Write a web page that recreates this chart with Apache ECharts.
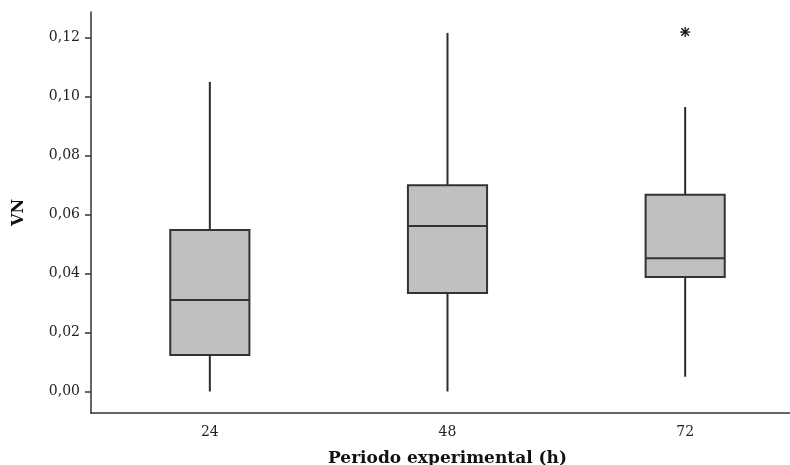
<!DOCTYPE html>
<html>
<head>
<meta charset="utf-8">
<script src="https://cdn.jsdelivr.net/npm/echarts@6/dist/echarts.min.js"></script>
<style>
  html, body { margin: 0; padding: 0; background: #fff; }
  #chart { width: 790px; height: 465px; }
</style>
</head>
<body>
<div id="chart"></div>
<script>
// Experimental period groups (hours)
const categories = ['24', '48', '72'];
// Five-number summaries per group
const whiskerLow  = [0.0000, 0.0000, 0.0050];
const q1          = [0.0124, 0.0334, 0.0388];
const median      = [0.0310, 0.0561, 0.0452];
const q3          = [0.0548, 0.0699, 0.0667];
const whiskerHigh = [0.1050, 0.1216, 0.0965];
// Outliers: [group index, value]
const outliers = [[2, 0.1219]];
// Y-axis tick values
const yTicks = [0, 0.02, 0.04, 0.06, 0.08, 0.10, 0.12];

const boxData = categories.map((c, i) => [i, whiskerLow[i], q1[i], median[i], q3[i], whiskerHigh[i]]);

const lineColor = '#2b2b2b';
const serif = '"DejaVu Serif", "Liberation Serif", serif';

function renderBox(params, api) {
  const i = api.value(0);
  const band = api.size([1, 0])[0];
  const half = band * 0.333 / 2;
  const pLow = api.coord([i, api.value(1)]);
  const pQ1 = api.coord([i, api.value(2)]);
  const pMed = api.coord([i, api.value(3)]);
  const pQ3 = api.coord([i, api.value(4)]);
  const pHigh = api.coord([i, api.value(5)]);
  const x = pQ1[0];
  const lineStyle = { stroke: lineColor, lineWidth: 2 };
  return {
    type: 'group',
    children: [
      { type: 'line', shape: { x1: x, y1: pHigh[1], x2: x, y2: pQ3[1] }, style: lineStyle },
      { type: 'line', shape: { x1: x, y1: pQ1[1], x2: x, y2: pLow[1] }, style: lineStyle },
      { type: 'rect', shape: { x: x - half, y: pQ3[1], width: half * 2, height: pQ1[1] - pQ3[1] },
        style: { fill: '#c0c0c0', stroke: '#333', lineWidth: 2 } },
      { type: 'line', shape: { x1: x - half, y1: pMed[1], x2: x + half, y2: pMed[1] }, style: { stroke: '#333', lineWidth: 2 } }
    ]
  };
}

function renderStar(params, api) {
  const p = api.coord([api.value(0), api.value(1)]);
  const r = 5;
  const d = r * 0.75;
  const st = { stroke: '#111', lineWidth: 1.3 };
  return {
    type: 'group',
    children: [
      { type: 'line', shape: { x1: p[0] - r, y1: p[1], x2: p[0] + r, y2: p[1] }, style: st },
      { type: 'line', shape: { x1: p[0], y1: p[1] - r, x2: p[0], y2: p[1] + r }, style: st },
      { type: 'line', shape: { x1: p[0] - d, y1: p[1] - d, x2: p[0] + d, y2: p[1] + d }, style: st },
      { type: 'line', shape: { x1: p[0] - d, y1: p[1] + d, x2: p[0] + d, y2: p[1] - d }, style: st }
    ]
  };
}

const chart = echarts.init(document.getElementById('chart'), null, { renderer: 'canvas' });
chart.setOption({
  animation: false,
  backgroundColor: '#fff',
  grid: { left: 91, top: 12, width: 713, height: 401, outerBoundsMode: 'none', containLabel: false },
  xAxis: {
    type: 'category',
    data: categories,
    boundaryGap: true,
    name: 'Periodo experimental (h)',
    nameLocation: 'middle',
    nameGap: 37,
    nameTextStyle: { fontFamily: serif, fontWeight: 'bold', fontSize: 17, color: '#111' },
    axisLine: { onZero: false, lineStyle: { color: '#333', width: 1.5 } },
    axisTick: { alignWithLabel: true, length: 5, lineStyle: { color: '#333', width: 1.5 } },
    axisLabel: { fontFamily: serif, fontSize: 14, color: '#222', margin: 12 },
    splitLine: { show: false }
  },
  yAxis: {
    type: 'value',
    min: -0.0073,
    max: 0.1287,
    name: 'VN',
    nameLocation: 'middle',
    nameGap: 64,
    nameRotate: 90,
    nameTextStyle: { fontFamily: serif, fontWeight: 'bold', fontSize: 16, color: '#111' },
    axisLine: { show: true, lineStyle: { color: '#333', width: 1.5 } },
    axisTick: { show: true, length: 6, customValues: yTicks, lineStyle: { color: '#333', width: 1.5 } },
    axisLabel: {
      fontFamily: serif, fontSize: 14, color: '#222', margin: 11,
      customValues: yTicks,
      formatter: v => v.toFixed(2).replace('.', ',')
    },
    splitLine: { show: false }
  },
  series: [
    {
      type: 'custom',
      renderItem: renderBox,
      encode: { x: 0, y: [1, 2, 3, 4, 5] },
      data: boxData,
      z: 2
    },
    {
      type: 'custom',
      renderItem: renderStar,
      encode: { x: 0, y: 1 },
      data: outliers,
      z: 3
    }
  ]
});
</script>
</body>
</html>
